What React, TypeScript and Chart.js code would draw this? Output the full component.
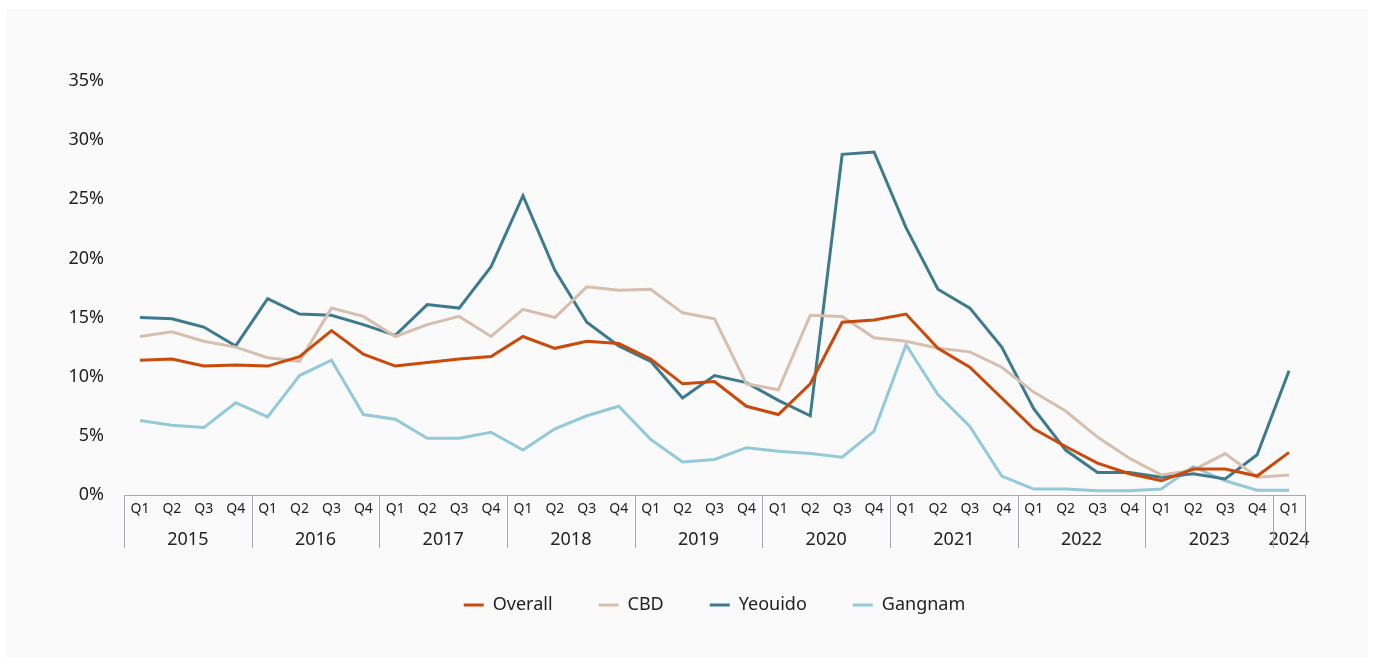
import React, { useEffect, useRef } from "react";
import { Chart, registerables } from "chart.js";

Chart.register(...registerables);

const quarterLabels = [
  "Q1", "Q2", "Q3", "Q4", "Q1", "Q2", "Q3", "Q4", "Q1", "Q2", "Q3", "Q4",
  "Q1", "Q2", "Q3", "Q4", "Q1", "Q2", "Q3", "Q4", "Q1", "Q2", "Q3", "Q4",
  "Q1", "Q2", "Q3", "Q4", "Q1", "Q2", "Q3", "Q4", "Q1", "Q2", "Q3", "Q4",
  "Q1",
];
const years = ["2015", "2016", "2017", "2018", "2019", "2020", "2021", "2022", "2023", "2024"];
const quartersPerYear = [4, 4, 4, 4, 4, 4, 4, 4, 4, 1];

const overall = [
  11.4, 11.5, 10.9, 11.0, 10.9, 11.7, 13.9, 11.9, 10.9, 11.2, 11.5, 11.7,
  13.4, 12.4, 13.0, 12.8, 11.5, 9.4, 9.6, 7.5, 6.8, 9.4, 14.6, 14.8,
  15.3, 12.4, 10.8, 8.2, 5.6, 4.1, 2.7, 1.8, 1.2, 2.2, 2.2, 1.6, 3.6,
];
const cbd = [
  13.4, 13.8, 13.0, 12.5, 11.6, 11.3, 15.8, 15.1, 13.4, 14.4, 15.1, 13.4,
  15.7, 15.0, 17.6, 17.3, 17.4, 15.4, 14.9, 9.4, 8.9, 15.2, 15.1, 13.3,
  13.0, 12.4, 12.1, 10.8, 8.7, 7.1, 4.9, 3.1, 1.7, 2.1, 3.5, 1.5, 1.7,
];
const yeouido = [
  15.0, 14.9, 14.2, 12.6, 16.6, 15.3, 15.2, 14.4, 13.5, 16.1, 15.8, 19.3,
  25.3, 19.0, 14.6, 12.6, 11.3, 8.2, 10.1, 9.5, 8.0, 6.7, 28.8, 29.0,
  22.6, 17.4, 15.8, 12.5, 7.3, 3.8, 1.9, 1.9, 1.5, 1.8, 1.35, 3.4, 10.5,
];
const gangnam = [
  6.3, 5.9, 5.7, 7.8, 6.6, 10.1, 11.4, 6.8, 6.4, 4.8, 4.8, 5.3,
  3.8, 5.6, 6.7, 7.5, 4.7, 2.8, 3.0, 4.0, 3.7, 3.5, 3.2, 5.4,
  12.7, 8.5, 5.8, 1.6, 0.5, 0.5, 0.35, 0.35, 0.5, 2.4, 1.2, 0.4, 0.4,
];

const seriesNames = ["Overall", "CBD", "Yeouido", "Gangnam"];
const seriesColors = ["#c94a0a", "#d6bfae", "#3d7a8e", "#93c9d8"];
const yTicks = [0, 5, 10, 15, 20, 25, 30, 35];

const FONT = "'Noto Sans', sans-serif";
const AXIS_COLOR = "#a9a9b3";
const TEXT_COLOR = "#222222";

const yearGroupPlugin = {
  id: "yearGroups",
  afterDraw(chart: any) {
    const { ctx, chartArea } = chart;
    const xs = chart.scales.x;
    const top = xs.top;
    ctx.save();
    ctx.strokeStyle = AXIS_COLOR;
    ctx.lineWidth = 1;
    const lines: number[] = [chartArea.left];
    let idx = 0;
    quartersPerYear.forEach((n, gi) => {
      const first = idx;
      const last = idx + n - 1;
      idx += n;
      if (gi < quartersPerYear.length - 1) {
        const b = (xs.getPixelForValue(last) + xs.getPixelForValue(last + 1)) / 2;
        lines.push(b);
      }
      const cx = (xs.getPixelForValue(first) + xs.getPixelForValue(last)) / 2;
      ctx.fillStyle = TEXT_COLOR;
      ctx.font = `18px ${FONT}`;
      ctx.textAlign = "center";
      ctx.textBaseline = "middle";
      ctx.fillText(years[gi], cx, top + 45);
    });
    lines.push(chartArea.right);
    lines.forEach((lx) => {
      const px = Math.round(lx) + 0.5;
      ctx.beginPath();
      ctx.moveTo(px, top);
      ctx.lineTo(px, top + 53);
      ctx.stroke();
    });
    ctx.restore();
  },
};

export default function App() {
  const ref = useRef<HTMLCanvasElement | null>(null);

  useEffect(() => {
    if (!ref.current) return;
    const datasets = [overall, cbd, yeouido, gangnam].map((d, i) => ({
      label: seriesNames[i],
      data: d,
      borderColor: seriesColors[i],
      backgroundColor: seriesColors[i],
      borderWidth: 3,
      pointRadius: 0,
      tension: 0,
      fill: false,
    }));
    const chart = new Chart(ref.current, {
      type: "line",
      data: { labels: quarterLabels, datasets },
      plugins: [yearGroupPlugin],
      options: {
        animation: false,
        responsive: false,
        devicePixelRatio: 1,
        layout: { padding: { top: 72, right: 63, bottom: 33, left: 0 } },
        plugins: {
          tooltip: { enabled: false },
          legend: {
            position: "bottom",
            fullSize: false,
            labels: {
              font: { family: FONT, size: 18 },
              color: TEXT_COLOR,
              boxWidth: 20,
              boxHeight: 3,
              padding: 46,
              generateLabels: (ch: any) =>
                ch.data.datasets.map((ds: any, i: number) => ({
                  text: ds.label,
                  fillStyle: seriesColors[i],
                  strokeStyle: seriesColors[i],
                  lineWidth: 0,
                  hidden: false,
                  datasetIndex: i,
                  fontColor: TEXT_COLOR,
                })),
            },
          },
        },
        scales: {
          x: {
            type: "category",
            offset: true,
            grid: { display: false, drawTicks: false },
            border: { display: true, color: AXIS_COLOR, width: 1 },
            ticks: {
              autoSkip: false,
              maxRotation: 0,
              font: { family: FONT, size: 14 },
              color: TEXT_COLOR,
              padding: 6,
            },
            afterFit: (s: any) => {
              s.height = 55;
            },
          },
          y: {
            min: 0,
            max: 35,
            afterBuildTicks: (s: any) => {
              s.ticks = yTicks.map((v) => ({ value: v }));
            },
            grid: { display: false, drawTicks: false },
            border: { display: false },
            ticks: {
              font: { family: FONT, size: 18 },
              color: TEXT_COLOR,
              padding: 20,
              callback: (v: any) => `${v}%`,
            },
            afterFit: (s: any) => {
              s.width = 118;
            },
          },
        },
      },
    } as any);
    return () => chart.destroy();
  }, []);

  return (
    <div>
      <div
        style={{
          position: "fixed",
          left: 6,
          top: 9,
          width: 1362,
          height: 660,
          background: "#fafafa",
        }}
      />
      <canvas
        ref={ref}
        width={1362}
        height={648}
        style={{ position: "fixed", left: 6, top: 9, width: 1362, height: 648 }}
      />
    </div>
  );
}
